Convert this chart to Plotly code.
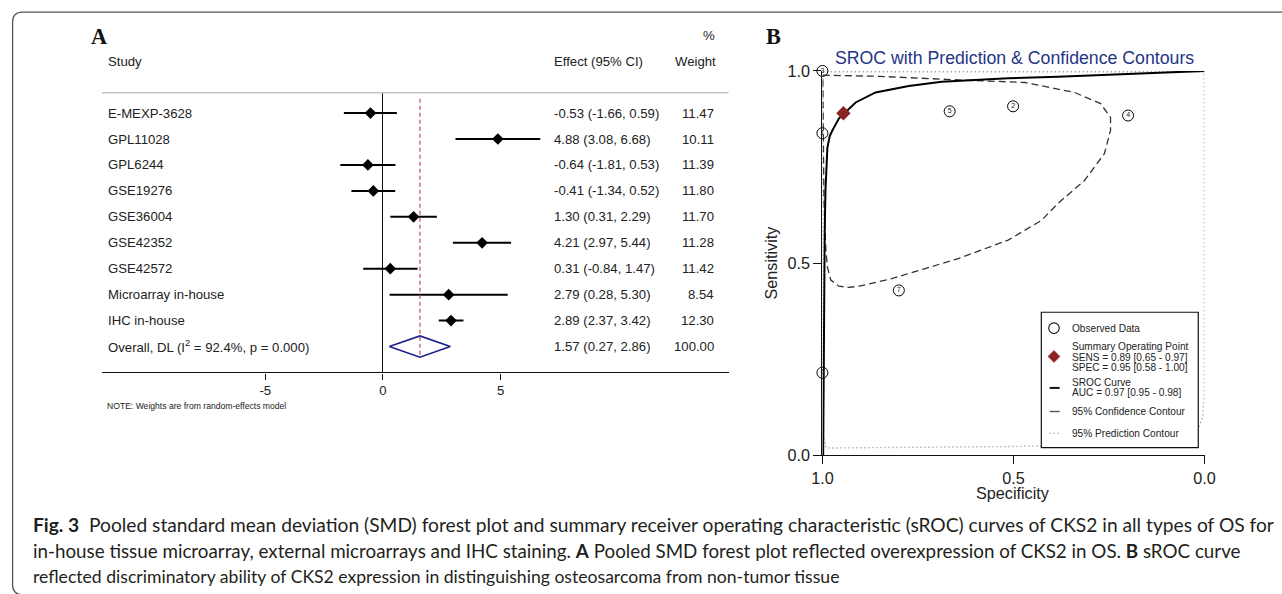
import plotly.graph_objects as go

# Figure size; the page adds an 8px body margin and the photo is resized back to
# 1282x594, so reference pixel positions are mapped through that transform.
W, H = 1282, 594
SX, SY, M = 1298 / 1282, 610 / 594, 8
FS = SX  # font compensation for the resize


def px(x):
    return (x * SX - M) / W


def py(y):
    return 1 - (y * SY - M) / H


# ---------------- Panel A: forest plot data ----------------
studies = ["E-MEXP-3628", "GPL11028", "GPL6244", "GSE19276", "GSE36004",
           "GSE42352", "GSE42572", "Microarray in-house", "IHC in-house"]
smd = [-0.53, 4.88, -0.64, -0.41, 1.30, 4.21, 0.31, 2.79, 2.89]
ci_low = [-1.66, 3.08, -1.81, -1.34, 0.31, 2.97, -0.84, 0.28, 2.37]
ci_high = [0.59, 6.68, 0.53, 0.52, 2.29, 5.44, 1.47, 5.30, 3.42]
weights = [11.47, 10.11, 11.39, 11.80, 11.70, 11.28, 11.42, 8.54, 12.30]
overall_label = "Overall, DL (I<sup>2</sup> = 92.4%, p = 0.000)"
overall_est, overall_low, overall_high, overall_weight = 1.57, 0.27, 2.86, 100.00
forest_ticks = [-5, 0, 5]

# ---------------- Panel B: SROC data ----------------
obs_spec = [1.0, 1.0, 0.667, 0.501, 0.200, 0.800, 1.0]
obs_sens = [1.0, 0.838, 0.895, 0.908, 0.884, 0.429, 0.215]
obs_label = ["3", "1", "5", "2", "4", "7", "6"]
summary_spec, summary_sens = 0.945, 0.89
sroc_spec = [0.998, 0.997, 0.996, 0.994, 0.992, 0.990, 0.987, 0.981, 0.974, 0.957,
             0.943, 0.913, 0.861, 0.774, 0.688, 0.601, 0.514, 0.384, 0.210, 0.0]
sroc_sens = [0.0, 0.15, 0.40, 0.58, 0.69, 0.75, 0.80, 0.83, 0.845, 0.876,
             0.890, 0.918, 0.944, 0.961, 0.972, 0.977, 0.981, 0.985, 0.991, 1.0]
conf_spec = [0.999, 0.852, 0.627, 0.470, 0.340, 0.272, 0.246, 0.246, 0.262, 0.314,
             0.384, 0.427, 0.514, 0.644, 0.731, 0.818, 0.904, 0.930, 0.957, 0.978,
             0.987, 0.991, 0.996, 0.998, 0.999]
conf_sens = [0.989, 0.986, 0.976, 0.970, 0.944, 0.915, 0.879, 0.845, 0.785, 0.715,
             0.655, 0.611, 0.560, 0.512, 0.486, 0.460, 0.440, 0.437, 0.440, 0.456,
             0.490, 0.534, 0.663, 0.870, 0.989]
pred_spec = [0.999, 0.5, 0.001, 0.001, 0.001, 0.005, 0.02, 0.1, 0.3, 0.5, 0.8, 0.99,
             0.997, 0.999, 0.999]
pred_sens = [0.998, 0.998, 0.998, 0.5, 0.15, 0.10, 0.06, 0.035, 0.027, 0.023, 0.02,
             0.019, 0.05, 0.3, 0.998]
sroc_ticks = [0.0, 0.5, 1.0]

FONT = "Liberation Sans, Arial, Helvetica, sans-serif"
SERIF = "Liberation Serif, Times New Roman, serif"

fig = go.Figure()

rows = list(range(len(studies)))
overall_row = len(studies)

fig.add_trace(go.Scatter(
    x=smd, y=rows, mode="markers",
    marker=dict(symbol="diamond", size=9, color="black"),
    error_x=dict(type="data", symmetric=False,
                 array=[h - e for h, e in zip(ci_high, smd)],
                 arrayminus=[e - l for e, l in zip(smd, ci_low)],
                 color="black", thickness=2, width=0),
    xaxis="x", yaxis="y", showlegend=False, hoverinfo="skip"))

dh = 0.41
fig.add_trace(go.Scatter(
    x=[overall_low, overall_est, overall_high, overall_est, overall_low],
    y=[overall_row, overall_row - dh, overall_row, overall_row + dh, overall_row],
    mode="lines", line=dict(color="#1c1f8a", width=1.6),
    xaxis="x", yaxis="y", showlegend=False, hoverinfo="skip"))

fig.add_trace(go.Scatter(x=pred_spec, y=pred_sens, mode="lines",
                         line=dict(color="#8a8a8a", width=1.4, dash="1px,3px"),
                         xaxis="x2", yaxis="y2", showlegend=False, hoverinfo="skip"))
fig.add_trace(go.Scatter(x=conf_spec, y=conf_sens, mode="lines",
                         line=dict(color="#333333", width=1.3, dash="7px,4px"),
                         xaxis="x2", yaxis="y2", showlegend=False, hoverinfo="skip"))
fig.add_trace(go.Scatter(x=sroc_spec, y=sroc_sens, mode="lines",
                         line=dict(color="black", width=2),
                         xaxis="x2", yaxis="y2", showlegend=False, hoverinfo="skip"))
fig.add_trace(go.Scatter(x=obs_spec, y=obs_sens, mode="markers+text",
                         text=obs_label, textposition="middle center",
                         textfont=dict(size=7, color="#222", family=FONT),
                         marker=dict(symbol="circle-open", size=11, color="black",
                                     line=dict(width=1)),
                         cliponaxis=False,
                         xaxis="x2", yaxis="y2", showlegend=False, hoverinfo="skip"))
fig.add_trace(go.Scatter(x=[summary_spec], y=[summary_sens], mode="markers",
                         marker=dict(symbol="diamond", size=11, color="#8b2323"),
                         cliponaxis=False,
                         xaxis="x2", yaxis="y2", showlegend=False, hoverinfo="skip"))

fx0, fx1 = 99.3, 729.0
zero_px, unit_px = 381.7, 23.66
fy_top, fy_bot = 92.0, 372.7
row0_px, row_step = 112.3, 26.05

fig.update_layout(
    width=W, height=H,
    margin=dict(l=0, r=0, t=0, b=0, pad=0),
    paper_bgcolor="white", plot_bgcolor="rgba(0,0,0,0)",
    font=dict(family=FONT, color="#222"),
    xaxis=dict(domain=[px(fx0), px(fx1)],
               range=[(fx0 - zero_px) / unit_px, (fx1 - zero_px) / unit_px],
               showgrid=False, zeroline=True, zerolinecolor="#111", zerolinewidth=1.2,
               showline=True, linecolor="#111", linewidth=1.4,
               ticks="outside", ticklen=6, tickcolor="#111", tickwidth=1,
               tickvals=forest_ticks, ticktext=[str(t) for t in forest_ticks],
               tickfont=dict(size=13 * FS, color="#222", family=FONT),
               anchor="y", fixedrange=True),
    yaxis=dict(domain=[py(fy_bot), py(fy_top)],
               range=[(fy_bot - row0_px) / row_step, (fy_top - row0_px) / row_step],
               visible=False, anchor="x", fixedrange=True),
    xaxis2=dict(domain=[px(823.3), px(1207.3)], range=[1, 0],
                showgrid=False, zeroline=False, showline=True, linecolor="#111",
                linewidth=1.3, ticks="outside", ticklen=8, tickcolor="#111",
                tickvals=sroc_ticks, ticktext=["%.1f" % t for t in sroc_ticks],
                tickfont=dict(size=16 * FS, color="#222", family=FONT),
                anchor="y2", fixedrange=True),
    yaxis2=dict(domain=[py(456), py(70)], range=[0, 1],
                showgrid=False, zeroline=False, showline=True, linecolor="#111",
                linewidth=1.3, ticks="outside", ticklen=8, tickcolor="#111",
                tickvals=sroc_ticks, ticktext=["%.1f" % t for t in sroc_ticks],
                tickfont=dict(size=16 * FS, color="#222", family=FONT),
                anchor="x2", fixedrange=True),
    showlegend=False,
)

shapes = []
r = 10
shapes.append(dict(type="path", xref="paper", yref="paper",
                   path=(f"M {px(1300)},{py(11)} L {px(9.5 + r)},{py(11)} "
                         f"Q {px(9.5)},{py(11)} {px(9.5)},{py(11 + r)} "
                         f"L {px(9.5)},{py(596 - r)} Q {px(9.5)},{py(596)} {px(9.5 + r)},{py(596)} "
                         f"L {px(1300)},{py(596)}"),
                   line=dict(color="#555", width=1.3)))
shapes.append(dict(type="line", xref="paper", yref="paper",
                   x0=px(fx0), x1=px(fx1), y0=py(fy_top), y1=py(fy_top),
                   line=dict(color="#c4c4c4", width=1.5)))
shapes.append(dict(type="line", xref="x", yref="y", x0=overall_est, x1=overall_est,
                   y0=-0.55, y1=overall_row + dh,
                   line=dict(color="#c0504d", width=1.2, dash="4px,3px")))

lx0, lx1, ly0, ly1 = 1043.3, 1201.0, 312.3, 448.3
shapes.append(dict(type="rect", xref="paper", yref="paper", layer="above",
                   x0=px(lx0), x1=px(lx1), y0=py(ly1), y1=py(ly0),
                   fillcolor="white", line=dict(color="#111", width=1.2)))
shapes.append(dict(type="circle", xref="paper", yref="paper", layer="above",
                   x0=px(1050.7), x1=px(1061.3), y0=py(333.6), y1=py(323.0),
                   line=dict(color="#111", width=1.1)))
shapes.append(dict(type="path", xref="paper", yref="paper", layer="above",
                   path=(f"M {px(1050)},{py(356.7)} L {px(1056)},{py(350.7)} "
                         f"L {px(1062)},{py(356.7)} L {px(1056)},{py(362.7)} Z"),
                   fillcolor="#8b2323", line=dict(color="#8b2323", width=0.5)))
shapes.append(dict(type="line", xref="paper", yref="paper", layer="above",
                   x0=px(1051.7), x1=px(1061.7), y0=py(388.3), y1=py(388.3),
                   line=dict(color="#111", width=2)))
shapes.append(dict(type="line", xref="paper", yref="paper", layer="above",
                   x0=px(1051.7), x1=px(1061.7), y0=py(412), y1=py(412),
                   line=dict(color="#555", width=1.4)))
shapes.append(dict(type="line", xref="paper", yref="paper", layer="above",
                   x0=px(1051.7), x1=px(1061.7), y0=py(434), y1=py(434),
                   line=dict(color="#888", width=1.3, dash="1px,3px")))
fig.update_layout(shapes=shapes)

ann = []


def text(x, y, s, size=13, anchor="left", color="#222", family=FONT, yref="paper", **kw):
    ann.append(dict(x=px(x), y=(py(y) if yref == "paper" else y), xref="paper", yref=yref,
                    text=s, showarrow=False, xanchor=anchor, yanchor="middle",
                    font=dict(size=size * FS, color=color, family=family), **kw))


text(86.5, 35.5, "<b>A</b>", size=22, family=SERIF, color="#111")
text(765, 35.5, "<b>B</b>", size=22, family=SERIF, color="#111")

text(103, 60.7, "Study")
text(551.7, 60.7, "Effect (95% CI)")
text(718.3, 60.7, "Weight", anchor="right")
text(717.5, 34, "%", anchor="right")

for i, name in enumerate(studies):
    text(103, rows[i], name, yref="y")
    text(551.7, rows[i], f"{smd[i]:.2f} ({ci_low[i]:.2f}, {ci_high[i]:.2f})", yref="y")
    text(716.7, rows[i], f"{weights[i]:.2f}", anchor="right", yref="y")
text(103, overall_row, overall_label, yref="y")
text(551.7, overall_row, f"{overall_est:.2f} ({overall_low:.2f}, {overall_high:.2f})", yref="y")
text(716.7, overall_row, f"{overall_weight:.2f}", anchor="right", yref="y")
text(102, 406.7, "NOTE: Weights are from random-effects model", size=8.5)

text(1016, 57.3, "SROC with Prediction &amp; Confidence Contours", size=17.5,
     anchor="center", color="#1f3585")
text(1015.3, 494, "Specificity", size=16, anchor="center")
ann.append(dict(x=px(772), y=py(262), xref="paper", yref="paper", text="Sensitivity",
                showarrow=False, textangle=-90, xanchor="center", yanchor="middle",
                font=dict(size=16 * FS, color="#222", family=FONT)))

lt = 1072.3
text(lt, 328.3, "Observed Data", size=10)
text(lt, 347.0, "Summary Operating Point", size=10)
text(lt, 357.3, "SENS = 0.89 [0.65 - 0.97]", size=10)
text(lt, 367.7, "SPEC = 0.95 [0.58 - 1.00]", size=10)
text(lt, 383.0, "SROC Curve", size=10)
text(lt, 393.3, "AUC = 0.97 [0.95 - 0.98]", size=10)
text(lt, 412.0, "95% Confidence Contour", size=10)
text(lt, 434.0, "95% Prediction Contour", size=10)

CAP = "Lato, Liberation Sans, Arial, sans-serif"
text(28, 525, "<b>Fig. 3</b>&nbsp;&nbsp;Pooled standard mean deviation (SMD) forest plot and summary "
     "receiver operating characteristic (sROC) curves of CKS2 in all types of OS for",
     size=19.2 / FS, family=CAP, color="#231f20")
text(28, 552, "in-house tissue microarray, external microarrays and IHC staining. <b>A</b> Pooled SMD "
     "forest plot reflected overexpression of CKS2 in OS. <b>B</b> sROC curve",
     size=18.8 / FS, family=CAP, color="#231f20")
text(28, 578, "reflected discriminatory ability of CKS2 expression in distinguishing osteosarcoma "
     "from non-tumor tissue", size=17.6 / FS, family=CAP, color="#231f20")

fig.update_layout(annotations=ann)

fig.write_html("out.html")
